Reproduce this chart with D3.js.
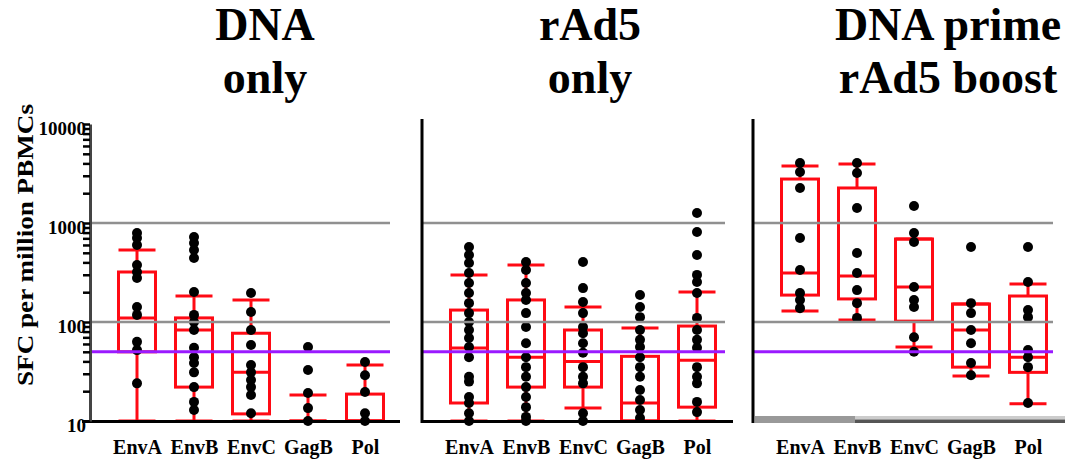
<!DOCTYPE html>
<html>
<head>
<meta charset="utf-8">
<script src="https://cdn.jsdelivr.net/npm/d3@7"></script>
<style>
  body { margin: 0; background: #fff; }
  text { font-family: "Liberation Serif", "DejaVu Serif", serif; font-weight: bold; }
</style>
</head>
<body>
<div id="root"></div>
<script>
// Categories and panel titles
const categories = ['EnvA', 'EnvB', 'EnvC', 'GagB', 'Pol']
const panelTitles = [['DNA', 'only'], ['rAd5', 'only'], ['DNA prime', 'rAd5 boost']]

// Axis values
const yTicks = [10, 100, 1000, 10000]
const gridValues = [100, 1000]
const threshold = 50

// Box stats per category: [low whisker, q1, median, q3, high whisker]
const dnaOnlyBoxes = [
  [10, 50, 110, 320, 534],
  [10, 22, 83, 110, 183],
  [10, 11.8, 31, 77, 167],
  [10, 10, 10, 10, 18.3],
  [10, 10, 10, 18.7, 36.8]
]
const rAd5Boxes = [
  [10, 15.2, 54.5, 132, 299],
  [10, 22, 44, 167, 377],
  [13.5, 22, 40, 83, 142],
  [10, 10, 15.2, 45, 87],
  [10, 13.8, 41, 91, 201]
]
const primeBoostBoxes = [
  [129, 187, 313, 2780, 3767],
  [105, 171, 292, 2258, 3943],
  [56, 102, 226, 689, 689],
  [28.5, 35, 83, 152, 152],
  [14.9, 31, 44, 183, 242]
]

// Individual responses (SFC per million PBMCs)
const dnaOnlyPoints = [
  [792, 705, 600, 376, 320, 278, 142, 118, 63, 52, 24],
  [722, 628, 533, 443, 201, 118, 100, 83, 55, 44, 38.5, 31, 22, 15.6, 12.9],
  [196, 126, 83, 58.6, 36.8, 31, 25.9, 22, 18.3, 12],
  [56, 32.7, 19.2, 13.5, 10],
  [39.5, 29, 19.6, 12, 10]
]
const rAd5Points = [
  [572, 475, 394, 313, 248, 196, 155, 123, 100, 83, 69, 56, 44, 28, 25, 17.5, 15.2, 12, 10],
  [403, 335, 248, 196, 167, 123, 89, 61, 44, 35, 28, 22, 17.5, 13.8, 11, 10],
  [403, 220, 159, 123, 89, 77, 61, 49, 35, 28, 24, 12, 10],
  [187, 142, 112, 83, 66, 56, 44, 35, 28, 20.6, 16.3, 12.9, 10.7],
  [1262, 811, 475, 299, 254, 196, 110, 83, 66, 55, 35, 28, 24, 15.6, 12.3]
]
const primeBoostPoints = [
  [4036, 3274, 2258, 705, 335, 196, 167, 138],
  [4036, 3199, 1419, 498, 313, 210, 155, 110],
  [1486, 792, 643, 226, 167, 142, 70, 50],
  [572, 155, 123, 83, 61, 38.5, 29],
  [572, 254, 132, 112, 52, 44, 35, 15.2]
]

// Layout
const width = 1072
const height = 464
const panelLeft = [90, 422, 753]
const panelRight = [400, 733, 1065]
const gridRight = [390, 725, 1053]
const titleCenter = [265, 590, 948]
const boxWidth = 37
const red = '#ff0a14'

const boxes = [dnaOnlyBoxes, rAd5Boxes, primeBoostBoxes]
const points = [dnaOnlyPoints, rAd5Points, primeBoostPoints]

const y = d3.scaleLog().domain([10, 10000]).range([421, 124]).clamp(true)

const svg = d3.select('#root').append('svg')
  .attr('width', width)
  .attr('height', height)

// Y axis title
svg.append('text')
  .attr('transform', 'translate(33,245) rotate(-90)')
  .attr('text-anchor', 'middle')
  .attr('font-size', 23)
  .attr('textLength', 282)
  .attr('lengthAdjust', 'spacingAndGlyphs')
  .text('SFC per million PBMCs')

panelLeft.forEach((x0, p) => {
  const g = svg.append('g')
  const x = d3.scalePoint().domain(categories).range([x0 + 47, x0 + 275])

  // Title, two lines
  g.selectAll('.title')
    .data(panelTitles[p])
    .enter().append('text')
    .attr('class', 'title')
    .attr('x', titleCenter[p])
    .attr('y', (d, i) => 40 + i * 53)
    .attr('text-anchor', 'middle')
    .attr('font-size', 46)
    .text(d => d)

  // Box plots
  const bp = g.append('g')
  boxes[p].forEach((b, i) => {
    const cx = x(categories[i])
    const [lo, q1, med, q3, hi] = b
    const half = boxWidth / 2
    bp.append('line')
      .attr('x1', cx).attr('x2', cx)
      .attr('y1', y(lo)).attr('y2', y(hi))
      .attr('stroke', red).attr('stroke-width', 3)
    bp.append('rect')
      .attr('x', cx - half).attr('width', boxWidth)
      .attr('y', y(q3)).attr('height', y(q1) - y(q3))
      .attr('fill', 'white').attr('stroke', red).attr('stroke-width', 3)
    ;[lo, med, hi].forEach(v => {
      bp.append('line')
        .attr('x1', cx - half).attr('x2', cx + half)
        .attr('y1', y(v)).attr('y2', y(v))
        .attr('stroke', red).attr('stroke-width', 3)
    })
  })

  // Dots
  points[p].forEach((vals, i) => {
    g.append('g').selectAll('circle')
      .data(vals)
      .enter().append('circle')
      .attr('cx', x(categories[i]))
      .attr('cy', d => y(d))
      .attr('r', 5)
      .attr('fill', 'black')
  })

  // Grid lines and threshold
  g.selectAll('.grid')
    .data(gridValues)
    .enter().append('line')
    .attr('x1', x0).attr('x2', gridRight[p])
    .attr('y1', d => y(d)).attr('y2', d => y(d))
    .attr('stroke', '#909090').attr('stroke-width', 2.5)

  g.append('line')
    .attr('x1', x0).attr('x2', gridRight[p])
    .attr('y1', y(threshold)).attr('y2', y(threshold))
    .attr('stroke', '#9a1aff').attr('stroke-width', 3)

  // X axis line
  if (p < 2) {
    g.append('line')
      .attr('x1', p === 0 ? x0 - 8 : x0).attr('x2', panelRight[p])
      .attr('y1', 421.5).attr('y2', 421.5)
      .attr('stroke', 'black').attr('stroke-width', 3)
  } else {
    g.append('rect').attr('x', x0 + 2).attr('y', 416).attr('width', 100).attr('height', 7).attr('fill', '#999')
    g.append('rect').attr('x', x0 + 102).attr('y', 416).attr('width', panelRight[p] - x0 - 102).attr('height', 3.5).attr('fill', '#ccc')
    g.append('rect').attr('x', x0 + 102).attr('y', 419.5).attr('width', panelRight[p] - x0 - 102).attr('height', 3.5).attr('fill', '#555')
  }

  // Category labels
  const xAxis = g.append('g')
    .attr('transform', 'translate(0,421)')
    .call(d3.axisBottom(x).tickSize(0).tickPadding(19))
  xAxis.select('.domain').remove()
  xAxis.selectAll('text')
    .attr('font-size', 20)
    .attr('font-family', '"Liberation Serif", serif')
    .attr('font-weight', 'bold')
    .attr('fill', 'black')

  // Y axis
  if (p === 0) {
    const tickVals = []
    ;[10, 100, 1000].forEach(dec => {
      for (let k = 1; k < 10; k++) tickVals.push(k * dec)
    })
    tickVals.push(10000)
    const yAxis = g.append('g')
      .attr('transform', `translate(${x0},0)`)
      .call(d3.axisLeft(y)
        .tickValues(tickVals)
        .tickSize(7)
        .tickSizeOuter(0)
        .tickPadding(-3)
        .tickFormat(d => yTicks.includes(d) ? d3.format('d')(d) : ''))
    yAxis.select('.domain').attr('stroke', '#444').attr('stroke-width', 3)
    yAxis.selectAll('.tick line').attr('stroke', 'black').attr('stroke-width', 2.5)
    yAxis.selectAll('text')
      .attr('font-size', 19)
      .attr('font-family', '"Liberation Serif", serif')
      .attr('font-weight', 'bold')
      .attr('fill', 'black')
      .attr('dy', '0.55em')
  } else {
    g.append('line')
      .attr('x1', x0).attr('x2', x0)
      .attr('y1', 119).attr('y2', 423)
      .attr('stroke', 'black').attr('stroke-width', 3)
  }
})
</script>
</body>
</html>
